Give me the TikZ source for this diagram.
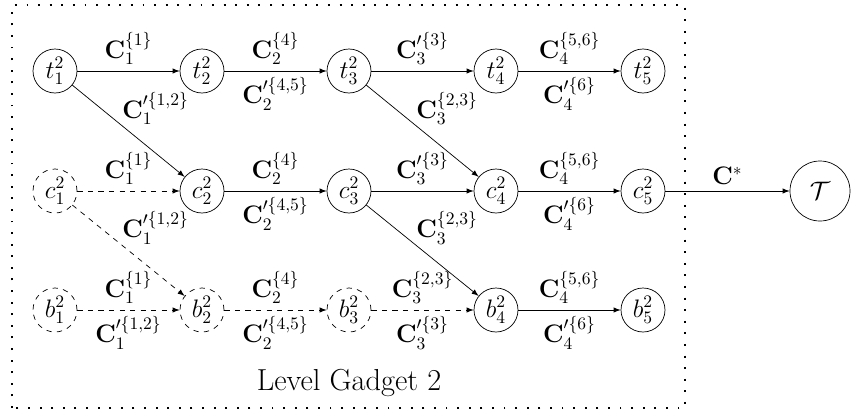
\documentclass[tikz,border=0pt]{standalone}
\usepackage{amsmath}
\usepackage{amssymb}
\usepackage{xcolor}
\usepackage{tikz}
\usetikzlibrary{arrows,calc,positioning}
\tikzstyle{vert} = [draw,circle,minimum size=0.88cm,inner sep=0pt,font=\Large]
\tikzstyle{dvert} = [vert,dashed]
\tikzstyle{arrow} = [-latex]
\tikzstyle{darrow} = [-latex,dashed]
\tikzstyle{diag} = [above right,xshift=-7pt]

\begin{document}
\begin{tikzpicture}[every node/.style={font=\Large}]
\useasboundingbox (0,0) rectangle (17.02,8.3);
\draw [dash pattern=on 1.1pt off 5.5pt,line width=1.1pt] (0.24,0.14) rectangle (13.70,8.2);
\node [font=\LARGE] (lvl) at (6.98,0.64) {Level Gadget 2};

\node [vert] (t1) at (1.1,6.88) {$t_1^2$};
\node [vert] (t2) at (4.04,6.88) {$t_2^2$};
\node [vert] (t3) at (6.98,6.88) {$t_3^2$};
\node [vert] (t4) at (9.92,6.88) {$t_4^2$};
\node [vert] (t5) at (12.86,6.88) {$t_5^2$};

\node [dvert] (c1) at (1.1,4.48) {$c_1^2$};
\node [vert] (c2) at (4.04,4.48) {$c_2^2$};
\node [vert] (c3) at (6.98,4.48) {$c_3^2$};
\node [vert] (c4) at (9.92,4.48) {$c_4^2$};
\node [vert] (c5) at (12.86,4.48) {$c_5^2$};

\node [dvert] (b1) at (1.1,2.1) {$b_1^2$};
\node [dvert] (b2) at (4.04,2.1) {$b_2^2$};
\node [dvert] (b3) at (6.98,2.1) {$b_3^2$};
\node [vert] (b4) at (9.92,2.1) {$b_4^2$};
\node [vert] (b5) at (12.86,2.1) {$b_5^2$};

\node [vert,minimum size=1.2cm] (T) at (16.4,4.48) {$\mathcal{T}$};

% top row
\draw [arrow] (t1) -- node[above] {$\mathbf{C}_1^{\{1\}}$} (t2);
\draw [arrow] (t2) -- node[above] {$\mathbf{C}_2^{\{4\}}$} node[below] {$\mathbf{C}_2^{\prime\{4,5\}}$} (t3);
\draw [arrow] (t3) -- node[above] {$\mathbf{C}_3^{\prime\{3\}}$} (t4);
\draw [arrow] (t4) -- node[above] {$\mathbf{C}_4^{\{5,6\}}$} node[below] {$\mathbf{C}_4^{\prime\{6\}}$} (t5);
\draw [arrow] (t1) -- node[diag] {$\mathbf{C}_1^{\prime\{1,2\}}$} (c2);
\draw [arrow] (t3) -- node[diag] {$\mathbf{C}_3^{\{2,3\}}$} (c4);

% middle row
\draw [darrow] (c1) -- node[above] {$\mathbf{C}_1^{\{1\}}$} (c2);
\draw [arrow] (c2) -- node[above] {$\mathbf{C}_2^{\{4\}}$} node[below] {$\mathbf{C}_2^{\prime\{4,5\}}$} (c3);
\draw [arrow] (c3) -- node[above] {$\mathbf{C}_3^{\prime\{3\}}$} (c4);
\draw [arrow] (c4) -- node[above] {$\mathbf{C}_4^{\{5,6\}}$} node[below] {$\mathbf{C}_4^{\prime\{6\}}$} (c5);
\draw [darrow] (c1) -- node[diag] {$\mathbf{C}_1^{\prime\{1,2\}}$} (b2);
\draw [arrow] (c3) -- node[diag] {$\mathbf{C}_3^{\{2,3\}}$} (b4);

% bottom row
\draw [darrow] (b1) -- node[above] {$\mathbf{C}_1^{\{1\}}$} node[below] {$\mathbf{C}_1^{\prime\{1,2\}}$} (b2);
\draw [darrow] (b2) -- node[above] {$\mathbf{C}_2^{\{4\}}$} node[below] {$\mathbf{C}_2^{\prime\{4,5\}}$} (b3);
\draw [darrow] (b3) -- node[above] {$\mathbf{C}_3^{\{2,3\}}$} node[below] {$\mathbf{C}_3^{\prime\{3\}}$} (b4);
\draw [arrow] (b4) -- node[above] {$\mathbf{C}_4^{\{5,6\}}$} node[below] {$\mathbf{C}_4^{\prime\{6\}}$} (b5);

\draw [arrow] (c5) -- node[above] {$\mathbf{C}^{*}$} (T);
\end{tikzpicture}
\end{document}
